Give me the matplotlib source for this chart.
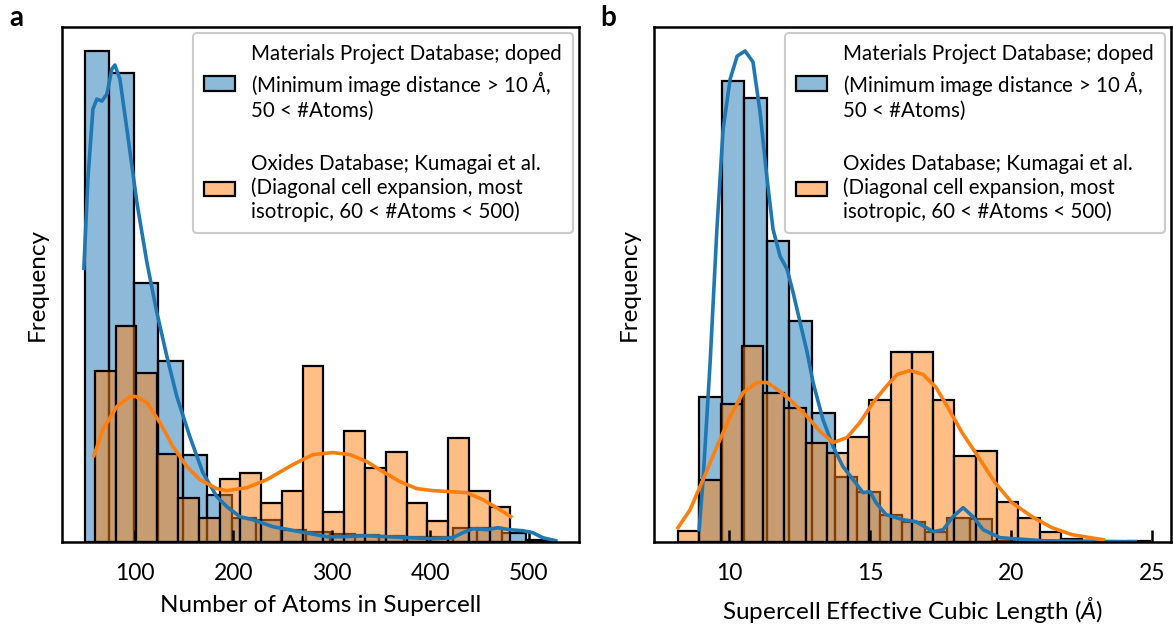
import numpy as np
import matplotlib
matplotlib.use('Agg')
import matplotlib.pyplot as plt
from matplotlib.colors import to_rgba

plt.rcParams['font.family'] = ['Lato', 'DejaVu Sans']
plt.rcParams['mathtext.fontset'] = 'custom'
plt.rcParams['mathtext.rm'] = 'Lato'
plt.rcParams['mathtext.it'] = 'Lato:italic'

BLUE = '#1f77b4'
ORANGE = '#ff7f0e'

# --- panel a: number of atoms in supercell ---
mp_atoms_start, mp_atoms_width = 49.2, 24.9
mp_atoms_counts = [490, 468, 258, 180, 87, 47, 24, 22, 12, 10, 8, 7, 6, 5, 5,
                   14, 14, 9, 2]
ox_atoms_start, ox_atoms_width = 59.4, 21.1
ox_atoms_counts = [170, 215, 168, 88, 44, 24, 63, 69, 39, 51, 175, 30, 111,
                   74, 90, 39, 21, 104, 51, 35]

mp_atoms_kde_x = [48.2, 52.3, 57.4, 61.4, 66.5, 71.6, 76.6, 79.7, 84.8, 91.9,
                  102.0, 112.2, 122.3, 132.5, 142.6, 155.8, 169.0, 183.2,
                  193.4, 206.6, 219.8, 240.1, 267.5, 294.9, 311.2, 335.5,
                  355.8, 379.2, 402.5, 422.8, 433.0, 443.1, 457.4, 468.5,
                  480.7, 493.9, 504.1, 514.2, 527.4]
mp_atoms_kde_y = [273, 362, 432, 442, 440, 447, 472, 476, 462, 412, 339, 279,
                  229, 185, 145, 105, 69, 45, 35, 25, 22, 15, 10, 5, 5, 6, 5,
                  4, 3, 4, 9, 13, 12, 14, 12, 11, 9, 4, 1]

ox_atoms_kde_x = [58.4, 67.5, 81.7, 94.9, 101.0, 112.2, 125.4, 138.6, 152.8,
                  166.0, 183.2, 193.4, 213.7, 234.0, 260.4, 280.7, 301.0,
                  318.3, 335.5, 351.8, 369.0, 386.3, 402.5, 419.8, 437.0,
                  453.3, 470.6, 481.7]
ox_atoms_kde_y = [86, 112, 135, 145, 145, 139, 119, 95, 75, 62, 53, 51, 54, 62,
                  77, 87, 89, 87, 80, 70, 60, 53, 51, 50, 49, 42, 32, 25]

# --- panel b: effective cubic length ---
mp_len_start, mp_len_width = 8.94, 0.80
mp_len_counts = [145, 460, 443, 300, 220, 129, 65, 50, 27, 20, 10, 24, 23, 1,
                 0, 0, 0, 0, 0, 1]
ox_len_start, ox_len_width = 8.19, 0.754
ox_len_counts = [11, 62, 138, 195, 149, 134, 99, 89, 105, 142, 189, 189, 142,
                 86, 91, 40, 24, 10, 3, 1]

mp_len_kde_x = [8.94, 9.08, 9.33, 9.57, 9.79, 10.04, 10.29, 10.57, 10.85,
                11.10, 11.35, 11.56, 11.81, 12.06, 12.27, 12.52, 12.77, 12.98,
                13.33, 13.69, 14.04, 14.40, 14.75, 15.00, 15.21, 15.57, 16.17,
                16.63, 17.24, 17.59, 17.94, 18.30, 18.65, 19.01, 19.61, 21.13,
                24.40]
mp_len_kde_y = [12, 62, 179, 312, 412, 462, 485, 490, 479, 429, 362, 312, 285,
                272, 249, 219, 189, 159, 122, 95, 75, 62, 49, 50, 39, 27, 22,
                20, 10, 12, 25, 34, 25, 12, 4, 1, 0]

ox_len_kde_x = [8.19, 8.62, 9.08, 9.57, 10.04, 10.50, 11.00, 11.35, 11.81,
                12.27, 12.77, 13.23, 13.69, 14.18, 14.64, 15.11, 15.57, 15.96,
                16.42, 16.88, 17.34, 17.80, 18.26, 18.83, 19.43, 20.03, 20.74,
                21.45, 22.16, 23.26]
ox_len_kde_y = [14, 32, 62, 95, 125, 149, 159, 159, 150, 139, 125, 110, 99,
                104, 119, 139, 155, 167, 171, 167, 154, 132, 109, 85, 59, 39,
                25, 14, 7, 2]

label_mp = ('Materials Project Database; doped\n'
            '(Minimum image distance > 10 $\\AA$,\n50 < #Atoms)')
label_ox = ('Oxides Database; Kumagai et al.\n'
            '(Diagonal cell expansion, most\nisotropic, 60 < #Atoms < 500)')


def hist_panel(ax, start, width, counts, color, label):
    edges = start + width * np.arange(len(counts) + 1)
    ax.bar(edges[:-1], counts, width=width, align='edge',
           facecolor=to_rgba(color, 0.5), edgecolor='black', linewidth=1.6,
           label=label)


def style_panel(ax, xlim, xticks, xlabel):
    ax.set_xlim(*xlim)
    ax.set_ylim(0, 514)
    ax.set_xticks(xticks)
    ax.set_yticks([])
    ax.tick_params(axis='x', direction='in', length=9, width=1.8,
                   labelsize=16.5, pad=15.5)
    ax.set_xlabel(xlabel, fontsize=17.5, labelpad=8)
    ax.set_ylabel('Frequency', fontsize=17.5, labelpad=10)
    for sp in ax.spines.values():
        sp.set_linewidth(1.8)
    leg = ax.legend(loc='upper right', fontsize=14.8, labelspacing=1.6,
                    handlelength=1.5, handleheight=0.7, handletextpad=0.78,
                    borderpad=0.55, borderaxespad=0.3, framealpha=1,
                    fancybox=True)
    leg.get_frame().set_edgecolor('#cccccc')
    leg.get_frame().set_linewidth(1.5)


fig = plt.figure(figsize=(11.73, 6.27), dpi=100)
ax_a = fig.add_axes([62 / 1173, 0.136, 517 / 1173, 0.821])
ax_b = fig.add_axes([654 / 1173, 0.136, 517 / 1173, 0.821])

hist_panel(ax_a, mp_atoms_start, mp_atoms_width, mp_atoms_counts, BLUE, label_mp)
hist_panel(ax_a, ox_atoms_start, ox_atoms_width, ox_atoms_counts, ORANGE, label_ox)
ax_a.plot(mp_atoms_kde_x, mp_atoms_kde_y, color=BLUE, lw=2.6)
ax_a.plot(ox_atoms_kde_x, ox_atoms_kde_y, color=ORANGE, lw=2.6)
style_panel(ax_a, (26, 551), [100, 200, 300, 400, 500],
            'Number of Atoms in Supercell')

hist_panel(ax_b, mp_len_start, mp_len_width, mp_len_counts, BLUE, label_mp)
hist_panel(ax_b, ox_len_start, ox_len_width, ox_len_counts, ORANGE, label_ox)
ax_b.plot(mp_len_kde_x, mp_len_kde_y, color=BLUE, lw=2.6)
ax_b.plot(ox_len_kde_x, ox_len_kde_y, color=ORANGE, lw=2.6)
style_panel(ax_b, (7.34, 25.67), [10, 15, 20, 25],
            'Supercell Effective Cubic Length ($\\AA$)')

fig.text(0.008, 0.972, 'a', fontsize=20, fontweight='bold', va='center')
fig.text(0.512, 0.972, 'b', fontsize=20, fontweight='bold', va='center')

fig.savefig('out.png', dpi=100)
